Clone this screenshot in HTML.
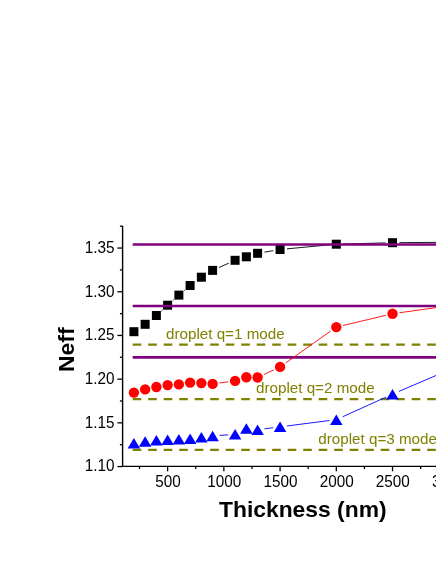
<!DOCTYPE html>
<html><head><meta charset="utf-8"><title>Neff vs Thickness</title>
<style>
html,body{margin:0;padding:0;background:#fff;}
body{width:436px;height:564px;overflow:hidden;font-family:"Liberation Sans",sans-serif;}
</style></head><body>
<svg width="436" height="564" viewBox="0 0 436 564" style="display:block;will-change:transform;opacity:0.999">
<rect width="436" height="564" fill="#fff"/>
<g font-family="Liberation Sans, sans-serif">
<line x1="161.47" y1="310.84" x2="162.54" y2="309.86" stroke="#000" stroke-width="0.9"/>
<line x1="172.76" y1="300.59" x2="173.74" y2="299.71" stroke="#000" stroke-width="0.9"/>
<line x1="184.12" y1="290.62" x2="184.87" y2="289.98" stroke="#000" stroke-width="0.9"/>
<line x1="218.90" y1="267.57" x2="228.80" y2="263.13" stroke="#000" stroke-width="0.9"/>
<line x1="264.39" y1="252.15" x2="273.27" y2="250.65" stroke="#000" stroke-width="0.9"/>
<line x1="286.94" y1="248.85" x2="329.43" y2="244.85" stroke="#000" stroke-width="0.9"/>
<line x1="343.20" y1="244.02" x2="385.63" y2="242.88" stroke="#000" stroke-width="0.9"/>
<line x1="399.42" y1="242.65" x2="441.85" y2="242.35" stroke="#000" stroke-width="0.9"/>
<rect x="129.39" y="327.20" width="9.0" height="9.0" fill="#000"/>
<rect x="140.63" y="319.80" width="9.0" height="9.0" fill="#000"/>
<rect x="151.88" y="311.00" width="9.0" height="9.0" fill="#000"/>
<rect x="163.12" y="300.70" width="9.0" height="9.0" fill="#000"/>
<rect x="174.37" y="290.60" width="9.0" height="9.0" fill="#000"/>
<rect x="185.62" y="281.00" width="9.0" height="9.0" fill="#000"/>
<rect x="196.86" y="272.70" width="9.0" height="9.0" fill="#000"/>
<rect x="208.11" y="265.90" width="9.0" height="9.0" fill="#000"/>
<rect x="230.59" y="255.80" width="9.0" height="9.0" fill="#000"/>
<rect x="241.84" y="252.30" width="9.0" height="9.0" fill="#000"/>
<rect x="253.09" y="248.80" width="9.0" height="9.0" fill="#000"/>
<rect x="275.57" y="245.00" width="9.0" height="9.0" fill="#000"/>
<rect x="331.80" y="239.70" width="9.0" height="9.0" fill="#000"/>
<rect x="388.02" y="238.20" width="9.0" height="9.0" fill="#000"/>
<rect x="444.25" y="237.80" width="9.0" height="9.0" fill="#000"/>
<line x1="132.7" y1="244.5" x2="441" y2="244.5" stroke="#800080" stroke-width="2.6"/>
<line x1="132.7" y1="306.0" x2="441" y2="306.0" stroke="#800080" stroke-width="2.6"/>
<line x1="132.7" y1="357.4" x2="441" y2="357.4" stroke="#800080" stroke-width="2.6"/>
<line x1="132.7" y1="344.6" x2="441" y2="344.6" stroke="#808000" stroke-width="2.2" stroke-dasharray="8.6 6.9"/>
<line x1="132.7" y1="399.2" x2="441" y2="399.2" stroke="#808000" stroke-width="2.2" stroke-dasharray="8.6 6.9"/>
<line x1="132.7" y1="449.9" x2="441" y2="449.9" stroke="#808000" stroke-width="2.2" stroke-dasharray="8.6 6.9"/>
<line x1="219.44" y1="382.99" x2="228.26" y2="381.81" stroke="#ff0000" stroke-width="0.9"/>
<line x1="263.83" y1="374.56" x2="273.83" y2="369.84" stroke="#ff0000" stroke-width="0.9"/>
<line x1="285.71" y1="362.91" x2="330.67" y2="331.09" stroke="#ff0000" stroke-width="0.9"/>
<line x1="343.01" y1="325.50" x2="385.81" y2="315.30" stroke="#ff0000" stroke-width="0.9"/>
<line x1="399.36" y1="312.75" x2="441.92" y2="306.85" stroke="#ff0000" stroke-width="0.9"/>
<circle cx="133.89" cy="392.60" r="5.2" fill="#ff0000"/>
<circle cx="145.13" cy="389.40" r="5.2" fill="#ff0000"/>
<circle cx="156.38" cy="387.00" r="5.2" fill="#ff0000"/>
<circle cx="167.62" cy="385.10" r="5.2" fill="#ff0000"/>
<circle cx="178.87" cy="384.40" r="5.2" fill="#ff0000"/>
<circle cx="190.12" cy="382.60" r="5.2" fill="#ff0000"/>
<circle cx="201.36" cy="383.10" r="5.2" fill="#ff0000"/>
<circle cx="212.61" cy="383.90" r="5.2" fill="#ff0000"/>
<circle cx="235.09" cy="380.90" r="5.2" fill="#ff0000"/>
<circle cx="246.34" cy="377.30" r="5.2" fill="#ff0000"/>
<circle cx="257.59" cy="377.50" r="5.2" fill="#ff0000"/>
<circle cx="280.07" cy="366.90" r="5.2" fill="#ff0000"/>
<circle cx="336.30" cy="327.10" r="5.2" fill="#ff0000"/>
<circle cx="392.52" cy="313.70" r="5.2" fill="#ff0000"/>
<circle cx="448.75" cy="305.90" r="5.2" fill="#ff0000"/>
<line x1="219.49" y1="435.46" x2="228.21" y2="434.84" stroke="#0000ff" stroke-width="0.9"/>
<line x1="264.43" y1="428.87" x2="273.23" y2="427.73" stroke="#0000ff" stroke-width="0.9"/>
<line x1="286.92" y1="425.97" x2="329.46" y2="420.53" stroke="#0000ff" stroke-width="0.9"/>
<line x1="342.58" y1="416.80" x2="386.24" y2="397.00" stroke="#0000ff" stroke-width="0.9"/>
<line x1="398.87" y1="391.43" x2="442.41" y2="372.77" stroke="#0000ff" stroke-width="0.9"/>
<polygon points="133.89,437.90 127.64,448.40 140.14,448.40" fill="#0000ff"/>
<polygon points="145.13,436.20 138.88,446.70 151.38,446.70" fill="#0000ff"/>
<polygon points="156.38,434.90 150.13,445.40 162.63,445.40" fill="#0000ff"/>
<polygon points="167.62,434.60 161.38,445.10 173.88,445.10" fill="#0000ff"/>
<polygon points="178.87,434.10 172.62,444.60 185.12,444.60" fill="#0000ff"/>
<polygon points="190.12,433.40 183.87,443.90 196.37,443.90" fill="#0000ff"/>
<polygon points="201.36,432.00 195.11,442.50 207.61,442.50" fill="#0000ff"/>
<polygon points="212.61,430.70 206.36,441.20 218.86,441.20" fill="#0000ff"/>
<polygon points="235.09,429.10 228.84,439.60 241.34,439.60" fill="#0000ff"/>
<polygon points="246.34,423.20 240.09,433.70 252.59,433.70" fill="#0000ff"/>
<polygon points="257.59,424.50 251.34,435.00 263.84,435.00" fill="#0000ff"/>
<polygon points="280.07,421.60 273.82,432.10 286.32,432.10" fill="#0000ff"/>
<polygon points="336.30,414.40 330.05,424.90 342.55,424.90" fill="#0000ff"/>
<polygon points="392.52,388.90 386.27,399.40 398.77,399.40" fill="#0000ff"/>
<polygon points="448.75,364.80 442.50,375.30 455.00,375.30" fill="#0000ff"/>
<line x1="122.6" y1="225.8" x2="122.6" y2="467.05" stroke="#000" stroke-width="1.4"/>
<line x1="121.89999999999999" y1="466.35" x2="441" y2="466.35" stroke="#000" stroke-width="1.4"/>
<line x1="117.39999999999999" y1="466.55" x2="122.6" y2="466.55" stroke="#000" stroke-width="1.3"/>
<text transform="translate(114.4,471.40) scale(1,1.03)" font-size="15.3" text-anchor="end" fill="#000">1.10</text>
<line x1="119.89999999999999" y1="444.70" x2="122.6" y2="444.70" stroke="#000" stroke-width="1.3"/>
<line x1="117.39999999999999" y1="422.85" x2="122.6" y2="422.85" stroke="#000" stroke-width="1.3"/>
<text transform="translate(114.4,427.70) scale(1,1.03)" font-size="15.3" text-anchor="end" fill="#000">1.15</text>
<line x1="119.89999999999999" y1="401.00" x2="122.6" y2="401.00" stroke="#000" stroke-width="1.3"/>
<line x1="117.39999999999999" y1="379.15" x2="122.6" y2="379.15" stroke="#000" stroke-width="1.3"/>
<text transform="translate(114.4,384.00) scale(1,1.03)" font-size="15.3" text-anchor="end" fill="#000">1.20</text>
<line x1="119.89999999999999" y1="357.30" x2="122.6" y2="357.30" stroke="#000" stroke-width="1.3"/>
<line x1="117.39999999999999" y1="335.45" x2="122.6" y2="335.45" stroke="#000" stroke-width="1.3"/>
<text transform="translate(114.4,340.30) scale(1,1.03)" font-size="15.3" text-anchor="end" fill="#000">1.25</text>
<line x1="119.89999999999999" y1="313.60" x2="122.6" y2="313.60" stroke="#000" stroke-width="1.3"/>
<line x1="117.39999999999999" y1="291.75" x2="122.6" y2="291.75" stroke="#000" stroke-width="1.3"/>
<text transform="translate(114.4,296.60) scale(1,1.03)" font-size="15.3" text-anchor="end" fill="#000">1.30</text>
<line x1="119.89999999999999" y1="269.90" x2="122.6" y2="269.90" stroke="#000" stroke-width="1.3"/>
<line x1="117.39999999999999" y1="248.05" x2="122.6" y2="248.05" stroke="#000" stroke-width="1.3"/>
<text transform="translate(114.4,252.90) scale(1,1.03)" font-size="15.3" text-anchor="end" fill="#000">1.35</text>
<line x1="119.89999999999999" y1="226.20" x2="122.6" y2="226.20" stroke="#000" stroke-width="1.3"/>
<line x1="139.51" y1="466.35" x2="139.51" y2="469.05" stroke="#000" stroke-width="1.3"/>
<line x1="167.62" y1="466.35" x2="167.62" y2="471.35" stroke="#000" stroke-width="1.3"/>
<text transform="translate(167.97,486.55) scale(1,1.03)" font-size="15.3" text-anchor="middle" fill="#000">500</text>
<line x1="195.74" y1="466.35" x2="195.74" y2="469.05" stroke="#000" stroke-width="1.3"/>
<line x1="223.85" y1="466.35" x2="223.85" y2="471.35" stroke="#000" stroke-width="1.3"/>
<text transform="translate(224.20,486.55) scale(1,1.03)" font-size="15.3" text-anchor="middle" fill="#000">1000</text>
<line x1="251.96" y1="466.35" x2="251.96" y2="469.05" stroke="#000" stroke-width="1.3"/>
<line x1="280.07" y1="466.35" x2="280.07" y2="471.35" stroke="#000" stroke-width="1.3"/>
<text transform="translate(280.43,486.55) scale(1,1.03)" font-size="15.3" text-anchor="middle" fill="#000">1500</text>
<line x1="308.19" y1="466.35" x2="308.19" y2="469.05" stroke="#000" stroke-width="1.3"/>
<line x1="336.30" y1="466.35" x2="336.30" y2="471.35" stroke="#000" stroke-width="1.3"/>
<text transform="translate(336.65,486.55) scale(1,1.03)" font-size="15.3" text-anchor="middle" fill="#000">2000</text>
<line x1="364.41" y1="466.35" x2="364.41" y2="469.05" stroke="#000" stroke-width="1.3"/>
<line x1="392.52" y1="466.35" x2="392.52" y2="471.35" stroke="#000" stroke-width="1.3"/>
<text transform="translate(392.88,486.55) scale(1,1.03)" font-size="15.3" text-anchor="middle" fill="#000">2500</text>
<line x1="420.64" y1="466.35" x2="420.64" y2="469.05" stroke="#000" stroke-width="1.3"/>
<line x1="448.75" y1="466.35" x2="448.75" y2="471.35" stroke="#000" stroke-width="1.3"/>
<text transform="translate(449.10,486.55) scale(1,1.03)" font-size="15.3" text-anchor="middle" fill="#000">3000</text>
<text x="166.0" y="339.0" font-size="15.2" fill="#808000">droplet q=1 mode</text>
<text x="256.0" y="393.4" font-size="15.2" fill="#808000">droplet q=2 mode</text>
<text x="318.3" y="443.7" font-size="15.2" fill="#808000">droplet q=3 mode</text>
<text x="219.0" y="517.2" font-size="22.85" font-weight="bold" fill="#000">Thickness (nm)</text>
<text transform="translate(74.3,371.9) rotate(-90)" font-size="22.85" font-weight="bold" fill="#000">Neff</text>
</g></svg>
</body></html>
